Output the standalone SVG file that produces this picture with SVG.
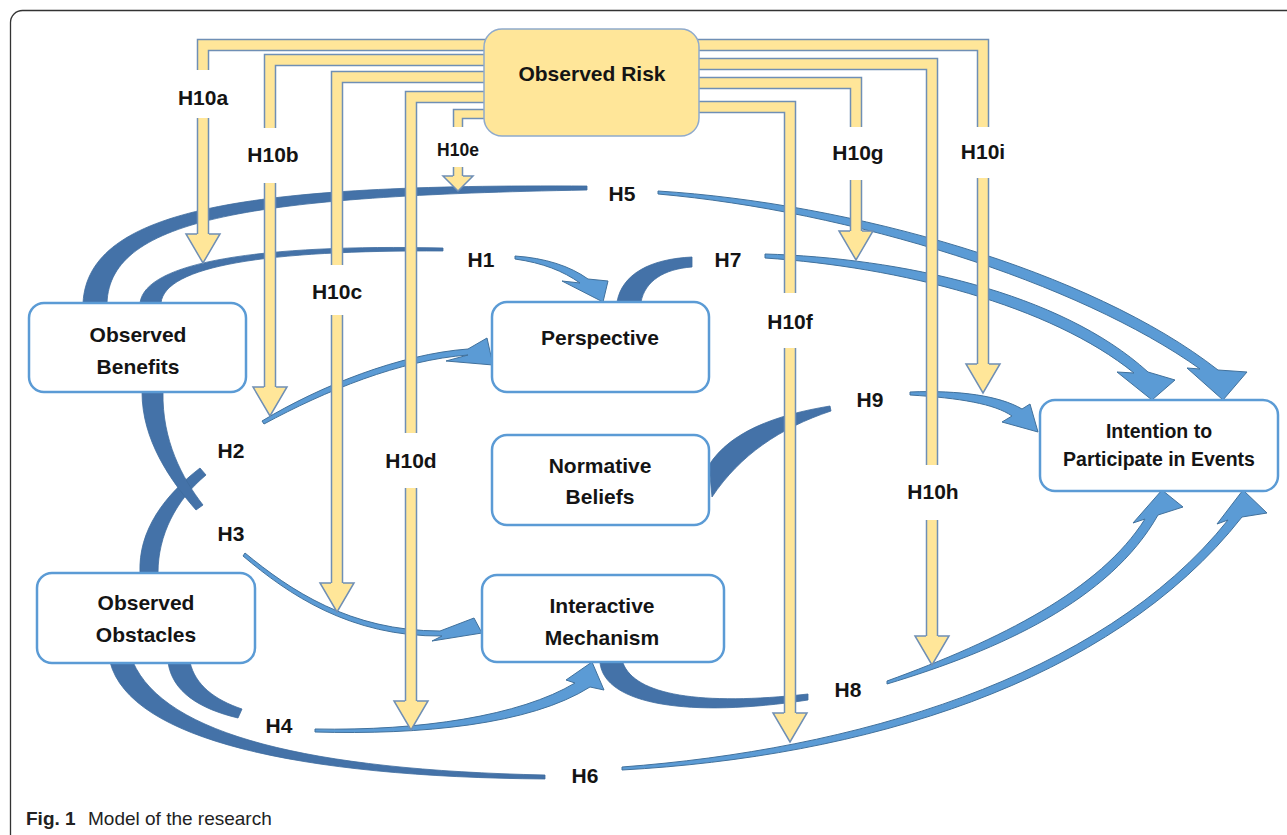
<svg xmlns="http://www.w3.org/2000/svg" xmlns:xlink="http://www.w3.org/1999/xlink" width="1287" height="835" viewBox="0 0 1287 835">
<style>
.frame{fill:none;stroke:#333;stroke-width:1.3}
.node rect{fill:#fff;stroke:#5B9BD5;stroke-width:2.5}
.risk rect{fill:#FFE699;stroke:#8FAACC;stroke-width:1.5}
.t{font-family:"Liberation Sans",Arial,sans-serif;font-weight:bold;font-size:21px;fill:#141414;text-anchor:middle}
.bo{fill:none;stroke:#6F8FB5;stroke-width:12.5}
.bi{fill:none;stroke:#FFE699;stroke-width:9.5}
.bo2{fill:none;stroke:#6F8FB5;stroke-width:10.5}
.bi2{fill:none;stroke:#FFE699;stroke-width:7.5}
.hf{fill:#FFE699;stroke:none}
.hs{fill:none;stroke:#6F8FB5;stroke-width:1.5;stroke-linejoin:miter}
.tail{fill:#4472A8;stroke:#3F6C9E;stroke-width:0.8}
.head{fill:#5B9BD5;stroke:#41719C;stroke-width:1}
.cap{font-family:"Liberation Sans",Arial,sans-serif;font-size:19px;fill:#222}
</style>
<defs>
<g id="shafts">
<path d="M490,45 H203 V70 M203,118 V234"/>
<path d="M490,60 H270 V128 M270,183 V387"/>
<path d="M490,77 H337 V265 M337,315 V583"/>
<path d="M490,97 H411 V433 M411,488 V701"/>
<path d="M692,107 H790 V293 M790,348 V713"/>
<path d="M692,83 H856 V127 M856,180 V231"/>
<path d="M692,64 H932 V465 M932,520 V636"/>
<path d="M692,45 H983 V127 M983,178 V364"/>
</g>
<path id="shaftE" d="M490,114 H458 V127 M458,167 V176"/>
</defs>

<rect class="frame" x="10.5" y="10.5" width="1320" height="900" rx="12"/>

<g id="connectors">
<!-- blue curved arrows -->
<g id="h-curves">
<path id="H5a" class="tail" d="M83,303 C88,208 250,184 587,186 L587,190 C255,196 110,218 107,303 Z"/>
<path id="H5b" class="head" d="M658,191 C850,203 1090,270 1218,370 L1247,372 L1223,400 L1187,368 L1200,369 C1078,282 850,211 658,194 Z"/>
<path id="H1a" class="tail" d="M140,303 C145,262 260,244 443,248 L443,251 C265,250 165,266 161,303 Z"/>
<path id="H1b" class="head" d="M515,256 C545,258 570,266 588,279 L608,281 L603,302 L562,281 L580,283 C563,271 543,263 515,259 Z"/>
<path id="H7a" class="tail" d="M617,302 C622,274 650,259 692,257 L692,267 C664,269 645,281 641,302 Z"/>
<path id="H7b" class="head" d="M765,254 C900,258 1060,292 1148,372 L1175,380 L1152,400 L1117,372 L1134,373 C1050,305 900,267 765,258 Z"/>
<path id="H2a" class="tail" d="M140,573 C138,530 165,495 200,468 L206,475 C176,500 158,535 158,573 Z"/>
<path id="H3a" class="tail" d="M142,392 C142,440 170,480 196,510 L203,505 C182,478 162,440 163,392 Z"/>
<path id="H2b" class="head" d="M262,421 C320,386 400,354 468,349 L487,338 L493,365 L446,361 L468,355 C400,360 325,391 264,424 Z"/>
<path id="H3b" class="head" d="M245,553 C290,590 350,631 440,631 L474,618 L482,633 L432,641 L442,636 C350,637 288,594 243,556 Z"/>
<path id="H4a" class="tail" d="M168,662 C172,692 200,709 238,718 L242,709 C215,700 195,685 190,662 Z"/>
<path id="H4b" class="head" d="M315,729 C420,731 520,716 575,683 L566,680 L592,662 L604,690 L590,687 C530,725 420,735 315,732 Z"/>
<path id="H8a" class="tail" d="M600,663 C605,705 690,718 808,700 L808,694 C700,706 635,695 623,663 Z"/>
<path id="H8b" class="head" d="M887,681 C1000,640 1100,590 1145,519 L1133,523 L1162,490 L1183,507 L1158,515 C1110,600 1000,650 887,684 Z"/>
<path id="H6a" class="tail" d="M110,662 C130,740 300,777 545,779 L545,775 C310,770 165,735 133,662 Z"/>
<path id="H6b" class="head" d="M622,767 C850,750 1100,680 1228,520 L1217,524 L1243,490 L1267,513 L1242,517 C1110,685 860,757 622,770 Z"/>
<path id="H9a" class="tail" d="M709,465 C730,432 775,415 830,406 L831,411 C780,428 740,455 712,497 Z"/>
<path id="H9b" class="head" d="M910,392 C960,390 1000,396 1022,409 L1030,404 L1038,432 L1002,422 L1012,416 C995,404 960,398 910,395 Z"/>
</g>
<!-- yellow H10 arrows -->
<g id="h10-bands">
<use xlink:href="#shafts" class="bo"/>
<use xlink:href="#shafts" class="bi"/>
<use xlink:href="#shaftE" class="bo2"/>
<use xlink:href="#shaftE" class="bi2"/>
<path class="hf" d="M186,234 H220 L203,263 Z"/><path class="hs" d="M209,234 H220 L203,263 L186,234 H197"/>
<path class="hf" d="M253,387 H287 L270,416 Z"/><path class="hs" d="M276,387 H287 L270,416 L253,387 H264"/>
<path class="hf" d="M320,583 H354 L337,612 Z"/><path class="hs" d="M343,583 H354 L337,612 L320,583 H331"/>
<path class="hf" d="M394,701 H428 L411,730 Z"/><path class="hs" d="M417,701 H428 L411,730 L394,701 H405"/>
<path class="hf" d="M443,176 H473 L458,191 Z"/><path class="hs" d="M463,176 H473 L458,191 L443,176 H453"/>
<path class="hf" d="M773,713 H807 L790,742 Z"/><path class="hs" d="M796,713 H807 L790,742 L773,713 H784"/>
<path class="hf" d="M839,231 H873 L856,260 Z"/><path class="hs" d="M862,231 H873 L856,260 L839,231 H850"/>
<path class="hf" d="M915,636 H949 L932,665 Z"/><path class="hs" d="M938,636 H949 L932,665 L915,636 H926"/>
<path class="hf" d="M966,364 H1000 L983,393 Z"/><path class="hs" d="M989,364 H1000 L983,393 L966,364 H977"/>
</g>
<!-- labels -->
<g id="labels" class="t">
<text x="203" y="105">H10a</text>
<text x="273" y="162">H10b</text>
<text x="337" y="299">H10c</text>
<text x="411" y="468">H10d</text>
<text x="458" y="156" style="font-size:17.5px">H10e</text>
<text x="790" y="329">H10f</text>
<text x="858" y="160">H10g</text>
<text x="933" y="499">H10h</text>
<text x="983" y="159">H10i</text>
<text x="481" y="267">H1</text>
<text x="231" y="458">H2</text>
<text x="231" y="541">H3</text>
<text x="279" y="733">H4</text>
<text x="622" y="201">H5</text>
<text x="585" y="783">H6</text>
<text x="728" y="267">H7</text>
<text x="848" y="697">H8</text>
<text x="870" y="407">H9</text>
</g>
</g>

<g id="observed-risk" class="risk">
<rect x="484" y="29" width="215" height="107" rx="18"/>
<text class="t" x="592" y="81" style="font-size:21px">Observed Risk</text>
</g>
<g id="observed-benefits" class="node">
<rect x="29" y="303" width="217" height="89" rx="15"/>
<text class="t" x="138" y="342">Observed</text>
<text class="t" x="138" y="374">Benefits</text>
</g>
<g id="observed-obstacles" class="node">
<rect x="37" y="573" width="218" height="90" rx="15"/>
<text class="t" x="146" y="610">Observed</text>
<text class="t" x="146" y="642">Obstacles</text>
</g>
<g id="perspective" class="node">
<rect x="492" y="302" width="217" height="90" rx="15"/>
<text class="t" x="600" y="345">Perspective</text>
</g>
<g id="normative-beliefs" class="node">
<rect x="492" y="435" width="217" height="90" rx="15"/>
<text class="t" x="600" y="473">Normative</text>
<text class="t" x="600" y="504">Beliefs</text>
</g>
<g id="interactive-mechanism" class="node">
<rect x="482" y="575" width="242" height="87" rx="15"/>
<text class="t" x="602" y="613">Interactive</text>
<text class="t" x="602" y="645">Mechanism</text>
</g>
<g id="intention" class="node">
<rect x="1040" y="400" width="238" height="91" rx="15"/>
<text class="t" x="1159" y="438" style="font-size:19.5px">Intention to</text>
<text class="t" x="1159" y="466" style="font-size:19.5px">Participate in Events</text>
</g>

<text class="cap" x="26" y="825"><tspan font-weight="bold">Fig. 1</tspan><tspan x="88">Model of the research</tspan></text>
</svg>
